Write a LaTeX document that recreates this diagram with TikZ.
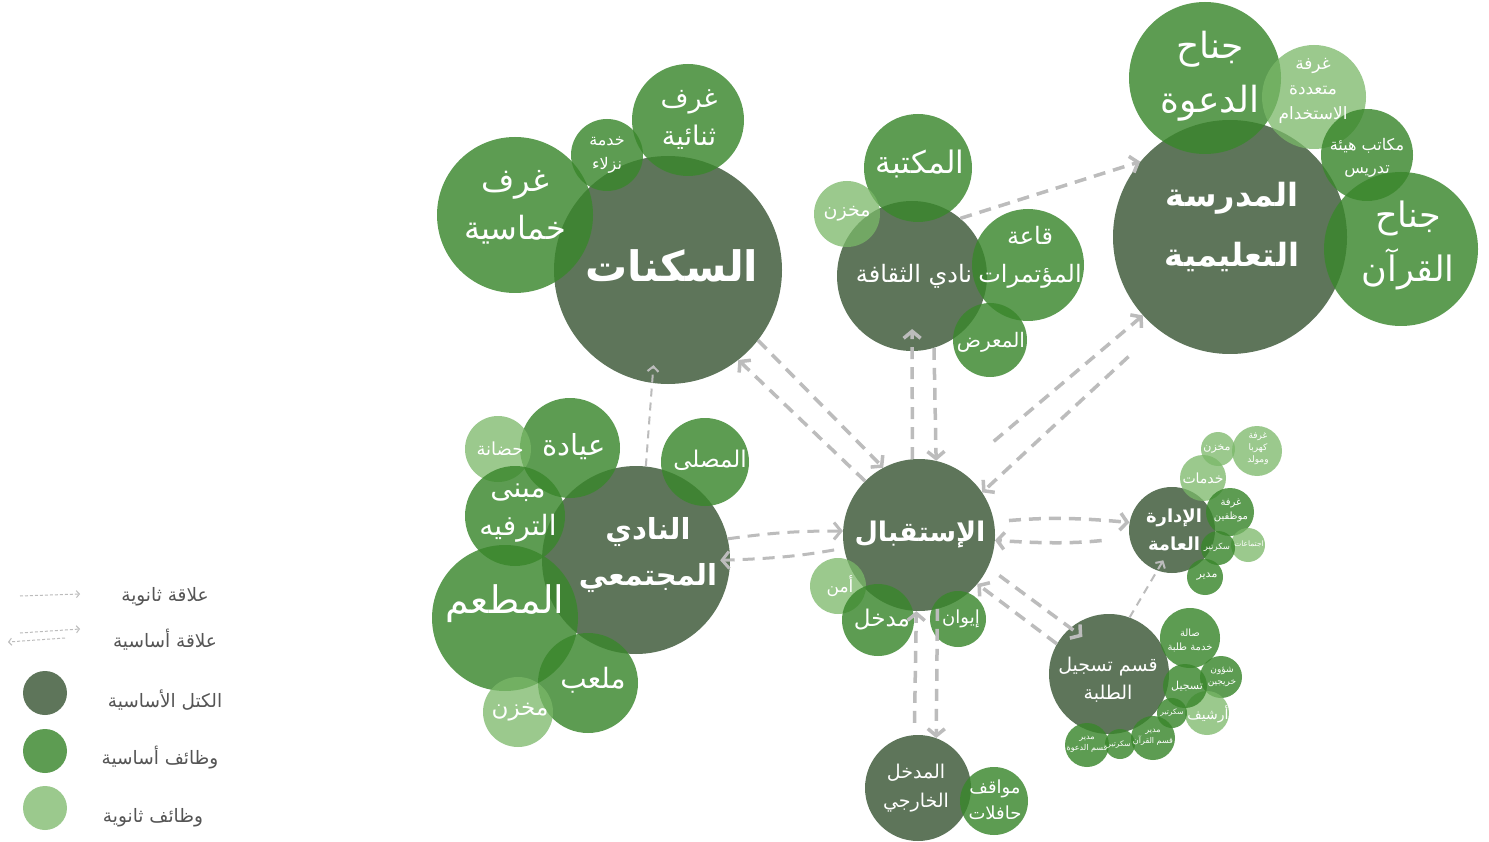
\documentclass[tikz,border=0pt]{standalone}
\usepackage{fontspec}
\usetikzlibrary{arrows.meta}
\newfontfamily\arabicfont[Script=Arabic]{DejaVu Sans}
\TeXXeTstate=1
\newcommand\artxt[1]{\beginR#1\endR}
\definecolor{mainc}{RGB}{72,99,68}
\definecolor{primc}{RGB}{58,135,44}
\definecolor{secc}{RGB}{122,184,104}
\definecolor{arrc}{RGB}{188,188,188}
\definecolor{legc}{RGB}{85,85,85}
\tikzset{
  rad/.style={minimum size=2*#1},
  mainblk/.style={circle, draw=none, inner sep=0pt, fill=mainc, fill opacity=0.88},
  prim/.style={circle, draw=none, inner sep=0pt, fill=primc, fill opacity=0.82},
  sec/.style={circle, draw=none, inner sep=0pt, fill=secc, fill opacity=0.75},
  lbl/.style={text=white, align=center, inner sep=0pt},
  fs/.style n args={2}{font=\arabicfont\fontsize{#1}{#2}\selectfont},
  fsb/.style n args={2}{font=\arabicfont\bfseries\fontsize{#1}{#2}\selectfont},
  rel/.style={draw=arrc, line width=3.5pt, dash pattern=on 12pt off 8pt, -{Straight Barb[length=7pt,width=17pt]}},
  relthin/.style={draw=arrc, line width=2pt, dash pattern=on 8pt off 6pt, -{Straight Barb[length=5pt,width=11pt]}},
  legarr/.style={draw=arrc, line width=1pt, dash pattern=on 3pt off 2pt, -{Straight Barb[length=3pt,width=7pt]}},
  legtxt/.style={text=legc, inner sep=0pt, font=\arabicfont\fontsize{18.5}{22}\selectfont},
}
\begin{document}
\begin{tikzpicture}[x=1pt,y=-1pt]
\useasboundingbox (0,0) rectangle (1489,842);
\fill[white] (0,0) rectangle (1489,842);

% ---------- main blocks ----------
\node[mainblk, rad=114] (res) at (668,270) {};
\node[mainblk, rad=75] (cul) at (912,276) {};
\node[mainblk, rad=117] (sch) at (1230,237) {};
\node[mainblk, rad=94] (com) at (636,560) {};
\node[mainblk, rad=76] (rec) at (919,535) {};
\node[mainblk, rad=53] (ext) at (918,788) {};
\node[mainblk, rad=43] (adm) at (1172,530) {};
\node[mainblk, rad=60] (reg) at (1109,674) {};

% ---------- housing functions ----------
\node[prim, rad=78] (res5) at (515,215) {};
\node[prim, rad=36] (resg) at (607,155) {};
\node[prim, rad=56] (res2) at (688,120) {};

% ---------- culture functions ----------
\node[prim, rad=54] (lib) at (918,168) {};
\node[sec, rad=33] (culst) at (847,214) {};
\node[prim, rad=56] (conf) at (1028,265) {};
\node[prim, rad=37] (exh) at (990,340) {};

% ---------- school functions ----------
\node[prim, rad=76] (dawa) at (1205,78) {};
\node[sec, rad=52] (multi) at (1314,97) {};
\node[prim, rad=46] (staff) at (1367,155) {};
\node[prim, rad=77] (quran) at (1401,249) {};

% ---------- community functions ----------
\node[prim, rad=44] (mosq) at (705,462) {};
\node[prim, rad=50] (clin) at (570,448) {};
\node[sec, rad=33] (nurs) at (498,449) {};
\node[prim, rad=50] (ent) at (515,516) {};
\node[prim, rad=73] (rest) at (505,618) {};
\node[prim, rad=50] (play) at (588,683) {};
\node[sec, rad=35] (comst) at (518,712) {};

% ---------- reception functions ----------
\node[sec, rad=28] (sec1) at (838,586) {};
\node[prim, rad=36] (entr) at (878,620) {};
\node[prim, rad=28] (iwan) at (958,619) {};

% ---------- external ----------
\node[prim, rad=34] (bus) at (994,801) {};

% ---------- admin functions ----------
\node[sec, rad=23] (asrv) at (1203,478) {};
\node[sec, rad=17] (ast) at (1218,449) {};
\node[sec, rad=25] (aele) at (1257,451) {};
\node[prim, rad=24] (astf) at (1230,512) {};
\node[sec, rad=17] (ameet) at (1248,545) {};
\node[prim, rad=17] (asec) at (1218,548) {};
\node[prim, rad=18] (adir) at (1205,577) {};

% ---------- registration functions ----------
\node[prim, rad=30] (rhall) at (1190,638) {};
\node[prim, rad=21] (rgrad) at (1221,677) {};
\node[sec, rad=22] (rarch) at (1207,713) {};
\node[prim, rad=22] (rreg) at (1185,686) {};
\node[prim, rad=15] (rsec1) at (1172,713) {};
\node[prim, rad=22] (rdq) at (1153,738) {};
\node[prim, rad=15] (rsec2) at (1120,744) {};
\node[prim, rad=22] (rdd) at (1087,745) {};

% ---------- labels ----------
\node[lbl, fsb={42}{48}] (tres) at (672,266) {\artxt{السكنات}};
\node[lbl, fs={32}{48}] (tres5) at (515,207) {\artxt{غرف}\\\artxt{خماسية}};
\node[lbl, fs={16}{24}] (tresg) at (607,155) {\artxt{خدمة}\\\artxt{نزلاء}};
\node[lbl, fs={27}{38}] (tres2) at (689,120) {\artxt{غرف}\\\artxt{ثنائية}};

\node[lbl, fs={24}{28}] (tcul) at (914,276) {\artxt{نادي الثقافة}};
\node[lbl, fs={31}{34}] (tlib) at (920,164) {\artxt{المكتبة}};
\node[lbl, fs={19}{22}] (tculst) at (847,214) {\artxt{مخزن}};
\node[lbl, fs={24}{38}] (tconf) at (1030,257) {\artxt{قاعة}\\\artxt{المؤتمرات}};
\node[lbl, fs={20}{24}] (texh) at (991,342) {\artxt{المعرض}};

\node[lbl, fsb={32}{60}] (tsch) at (1232,227) {\artxt{المدرسة}\\\artxt{التعليمية}};
\node[lbl, fs={36}{54}] (tdawa) at (1210,76) {\artxt{جناح}\\\artxt{الدعوة}};
\node[lbl, fs={17}{25}] (tmulti) at (1313,91) {\artxt{غرفة}\\\artxt{متعددة}\\\artxt{الاستخدام}};
\node[lbl, fs={16}{23}] (tstaff) at (1367,158) {\artxt{مكاتب هيئة}\\\artxt{تدريس}};
\node[lbl, fs={35}{54}] (tquran) at (1408,245) {\artxt{جناح}\\\artxt{القرآن}};

\node[lbl, fsb={29}{46}] (tcom) at (648,555) {\artxt{النادي}\\\artxt{المجتمعي}};
\node[lbl, fs={23}{26}] (tmosq) at (710,460) {\artxt{المصلى}};
\node[lbl, fs={29}{32}] (tclin) at (574,447) {\artxt{عيادة}};
\node[lbl, fs={18}{21}] (tnurs) at (500,449) {\artxt{حضانة}};
\node[lbl, fs={28}{38}] (tent) at (518,513) {\artxt{مبنى}\\\artxt{الترفيه}};
\node[lbl, fs={38}{44}] (trest) at (505,604) {\artxt{المطعم}};
\node[lbl, fs={28}{32}] (tplay) at (593,680) {\artxt{ملعب}};
\node[lbl, fs={23}{26}] (tcomst) at (520,712) {\artxt{مخزن}};

\node[lbl, fsb={27}{34}] (trec) at (920,535) {\artxt{الإستقبال}};
\node[lbl, fs={17}{20}] (tsec1) at (840,586) {\artxt{أمن}};
\node[lbl, fs={23}{26}] (tentr) at (882,620) {\artxt{مدخل}};
\node[lbl, fs={18}{21}] (tiwan) at (961,619) {\artxt{إيوان}};

\node[lbl, fs={19}{29}] (text) at (916,788) {\artxt{المدخل}\\\artxt{الخارجي}};
\node[lbl, fs={18}{26}] (tbus) at (995,800) {\artxt{مواقف}\\\artxt{حافلات}};

\node[lbl, fsb={18}{28}] (tadm) at (1174,530) {\artxt{الإدارة}\\\artxt{العامة}};
\node[lbl, fs={14}{16}] (tasrv) at (1203,478) {\artxt{خدمات}};
\node[lbl, fs={11}{13}] (tast) at (1217,449) {\artxt{مخزن}};
\node[lbl, fs={9}{12}] (taele) at (1258,449) {\artxt{غرفة}\\\artxt{كهربا}\\\artxt{ومولد}};
\node[lbl, fs={10}{14}] (tastf) at (1231,510) {\artxt{غرفة}\\\artxt{موظفين}};
\node[lbl, fs={7.5}{9}] (tameet) at (1249,544) {\artxt{اجتماعات}};
\node[lbl, fs={8.5}{10}] (tasec) at (1217,547) {\artxt{سكرتير}};
\node[lbl, fs={11}{13}] (tadir) at (1207,577) {\artxt{مدير}};

\node[lbl, fs={19}{28}] (treg) at (1108,680) {\artxt{قسم تسجيل}\\\artxt{الطلبة}};
\node[lbl, fs={10}{14}] (trhall) at (1190,640) {\artxt{صالة}\\\artxt{خدمة طلبة}};
\node[lbl, fs={11}{13}] (trreg) at (1187,686) {\artxt{تسجيل}};
\node[lbl, fs={9}{12}] (trgrad) at (1222,677) {\artxt{شؤون}\\\artxt{خريجين}};
\node[lbl, fs={14}{16}] (trarch) at (1208,714) {\artxt{أرشيف}};
\node[lbl, fs={7.5}{9}] (trsec1) at (1172,713) {\artxt{سكرتير}};
\node[lbl, fs={8}{11}] (trdq) at (1153,737) {\artxt{مدير}\\\artxt{قسم القرآن}};
\node[lbl, fs={7.5}{9}] (trsec2) at (1119,745) {\artxt{سكرتير}};
\node[lbl, fs={8}{11}] (trdd) at (1087,744) {\artxt{مدير}\\\artxt{قسم الدعوة}};

% ---------- connectors ----------
\draw[rel] (rec.135) -- (res.-52);
\draw[rel] (res.-38) -- (rec.118);
\draw[relthin, shorten >=-18pt] (com.84) -- (res.-98);
\draw[rel, line width=3pt] (com.13) to[bend left=4] (rec.177);
\draw[rel, line width=3pt, shorten <=10pt, shorten >=-10pt] (rec.-170) to[bend left=4] (com.0);
\draw[rel, shorten >=53pt] (rec.95) -- (cul.center);
\draw[rel] (cul.-73) -- (rec.77);
\draw[rel] (cul.50) -- (sch.140);
\draw[rel, shorten <=45pt] (rec.58) -- (sch.-138);
\draw[rel, shorten <=40pt] (sch.-128) -- (rec.34);
\draw[rel, shorten <=15pt] (rec.10) to[bend left=5] (adm.170);
\draw[rel, shorten <=28pt] (adm.-170) to[bend left=5] (rec.-4);
\draw[rel, shorten <=14pt, shorten >=-15pt] (rec.-25) -- (reg.130);
\draw[rel] (reg.150) -- (rec.-40);
\draw[relthin, shorten >=-12pt] (reg.70) -- (adm.-110);
\draw[rel, shorten <=12pt] (ext.94) -- (rec.-92);
\draw[rel] (rec.-76) -- (ext.70);

% ---------- legend ----------
\coordinate (la1) at (20,596);
\coordinate (lb1) at (80,594);
\coordinate (la2) at (20,633);
\coordinate (lb2) at (80,629);
\coordinate (la3) at (65,638);
\coordinate (lb3) at (8,642);
\draw[legarr] (la1) -- (lb1);
\draw[legarr] (la2) -- (lb2);
\draw[legarr] (la3) -- (lb3);
\node[legtxt] (lt1) at (165,597) {\artxt{علاقة ثانوية}};
\node[legtxt] (lt2) at (165,640) {\artxt{علاقة أساسية}};
\node[mainblk, rad=22] (lc1) at (45,693) {};
\node[prim, rad=22] (lc2) at (45,751) {};
\node[sec, rad=22] (lc3) at (45,808) {};
\node[legtxt] (lt3) at (165,700) {\artxt{الكتل الأساسية}};
\node[legtxt] (lt4) at (160,758) {\artxt{وظائف أساسية}};
\node[legtxt] (lt5) at (153,818) {\artxt{وظائف ثانوية}};
\end{tikzpicture}
\end{document}
